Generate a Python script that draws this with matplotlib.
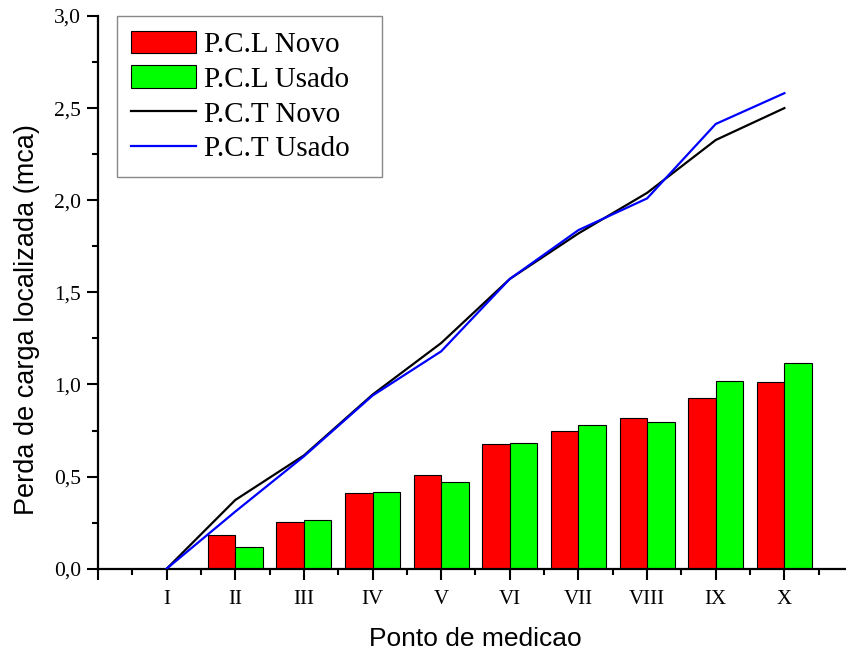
import matplotlib.pyplot as plt
from matplotlib.ticker import MultipleLocator, FuncFormatter
from matplotlib.patches import Patch
from matplotlib.lines import Line2D


# pontos de medicao
pontos = ['I', 'II', 'III', 'IV', 'V', 'VI', 'VII', 'VIII', 'IX', 'X']

# perda de carga localizada (barras), sem valor no ponto I
pcl_novo = [0.185, 0.255, 0.413, 0.51, 0.675, 0.746, 0.816, 0.928, 1.012]
pcl_usado = [0.118, 0.263, 0.415, 0.472, 0.681, 0.78, 0.796, 1.019, 1.115]

# perda de carga total (linhas)
pct_novo = [0.0, 0.373, 0.615, 0.945, 1.225, 1.573, 1.82, 2.04, 2.327, 2.50]
pct_usado = [0.0, 0.31, 0.61, 0.94, 1.18, 1.573, 1.838, 2.01, 2.414, 2.581]


if __name__ == "__main__":
    serif = 'Liberation Serif'
    sans = 'Liberation Sans'

    fig = plt.figure(figsize=(8.46, 6.5), dpi=100)
    ax = fig.add_axes([0.1158, 0.125, 0.8925, 0.8504])

    x = list(range(1, len(pontos) + 1))
    xb = x[1:]
    w = 0.4

    ax.bar([v - w / 2 for v in xb], pcl_novo, width=w, color='#ff0000',
           edgecolor='black', linewidth=0.8, zorder=2)
    ax.bar([v + w / 2 for v in xb], pcl_usado, width=w, color='#00ff00',
           edgecolor='black', linewidth=0.8, zorder=2)

    ax.plot(x, pct_novo, color='black', linewidth=1.6, zorder=3)
    ax.plot(x, pct_usado, color='#0000ff', linewidth=1.6, zorder=4)

    ax.set_xlim(0, 11)
    ax.set_ylim(0, 3.0)

    ax.set_xticks([0] + x)
    ax.set_xticklabels([''] + pontos, fontfamily=serif, fontsize=15)
    ax.set_xticks([v + 0.5 for v in range(0, 11)], minor=True)

    ax.yaxis.set_major_locator(MultipleLocator(0.5))
    ax.yaxis.set_minor_locator(MultipleLocator(0.25))
    ax.yaxis.set_major_formatter(FuncFormatter(lambda v, p: f'{v:.1f}'.replace('.', ',')))
    for lbl in ax.get_yticklabels():
        lbl.set_fontfamily(serif)
        lbl.set_fontsize(15.5)

    ax.tick_params(axis='both', which='major', direction='out', length=7.7,
                   width=1.5)
    ax.tick_params(axis='both', which='minor', direction='out', length=4.3,
                   width=1.5)
    ax.tick_params(axis='x', which='major', pad=7.3)
    ax.tick_params(axis='y', which='major', pad=4.3)

    for side in ['top', 'right']:
        ax.spines[side].set_visible(False)
    for side in ['left', 'bottom']:
        ax.spines[side].set_linewidth(1.6)

    ax.set_xlabel('Ponto de medicao', fontfamily=sans, fontsize=19)
    ax.set_ylabel('Perda de carga localizada (mca)', fontfamily=sans, fontsize=19.5)
    ax.xaxis.set_label_coords(0.5, -0.106)
    ax.yaxis.set_label_coords(-0.077, 0.45)

    handles = [
        Patch(facecolor='#ff0000', edgecolor='black', linewidth=0.8),
        Patch(facecolor='#00ff00', edgecolor='black', linewidth=0.8),
        Line2D([], [], color='black', linewidth=1.6),
        Line2D([], [], color='#0000ff', linewidth=1.6),
    ]
    labels = ['P.C.L Novo', 'P.C.L Usado', 'P.C.T Novo', 'P.C.T Usado']
    leg = ax.legend(handles, labels, loc='upper left',
                    bbox_to_anchor=(0.025, 0.0, 0.351, 1.0), mode='expand',
                    borderaxespad=0, prop={'family': serif, 'size': 21},
                    handlelength=2.2, handleheight=0.82, handletextpad=0.3,
                    labelspacing=0.25, borderpad=0.5, fancybox=False,
                    edgecolor='#888888', framealpha=1)
    leg.get_frame().set_linewidth(1.0)

    fig.savefig('out.png', dpi=100)
